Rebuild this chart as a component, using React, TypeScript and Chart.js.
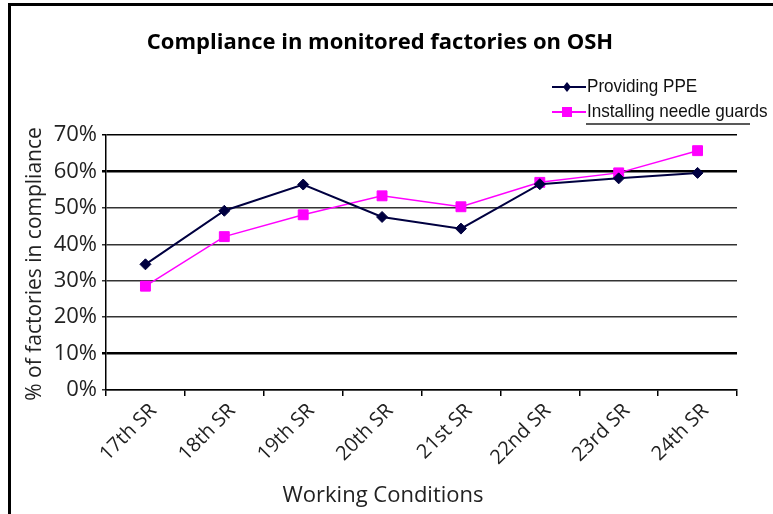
import React, { useEffect, useRef } from "react";
import { Chart, registerables } from "chart.js";

Chart.register(...registerables);

const categories = ["17th SR", "18th SR", "19th SR", "20th SR", "21st SR", "22nd SR", "23rd SR", "24th SR"];
const providingPPE = [34.5, 49.2, 56.4, 47.5, 44.3, 56.5, 58.1, 59.6];
const needleGuards = [28.5, 42.1, 48.1, 53.3, 50.3, 57.0, 59.6, 65.7];
const yTicks = [0, 10, 20, 30, 40, 50, 60, 70];
const seriesNames = ["Providing PPE", "Installing needle guards"];
const chartTitle = "Compliance in monitored factories on OSH";
const xTitle = "Working Conditions";
const yTitle = "% of factories in compliance";

const NAVY = "#000040";
const PINK = "#ff00ff";

const overlay = {
  id: "overlay",
  afterDraw(chart: any) {
    const ctx = chart.ctx;
    ctx.save();
    // frame
    ctx.fillStyle = "#000";
    ctx.fillRect(8, 3, 765, 3);
    ctx.fillRect(8, 3, 3, 511);
    // title
    ctx.fillStyle = "#000";
    ctx.font = "bold 22px 'Open Sans'";
    ctx.textAlign = "center";
    ctx.textBaseline = "alphabetic";
    ctx.fillText(chartTitle, 380, 49);
    // x title
    ctx.fillStyle = "#222";
    ctx.font = "22px 'Open Sans'";
    ctx.fillText(xTitle, 383, 502);
    // y title
    ctx.save();
    ctx.translate(41, 264);
    ctx.rotate(-Math.PI / 2);
    ctx.font = "21px 'Open Sans'";
    ctx.textAlign = "center";
    ctx.fillText(yTitle, 0, 0);
    ctx.restore();
    // legend
    const rows = [87, 112];
    chart.data.datasets.forEach((ds: any, i: number) => {
      const y = rows[i];
      ctx.strokeStyle = ds.borderColor;
      ctx.lineWidth = 2;
      ctx.beginPath();
      ctx.moveTo(552, y);
      ctx.lineTo(586, y);
      ctx.stroke();
      ctx.fillStyle = ds.borderColor;
      ctx.beginPath();
      if (i === 0) {
        ctx.moveTo(567, y - 5);
        ctx.lineTo(571, y);
        ctx.lineTo(567, y + 5);
        ctx.lineTo(563, y);
        ctx.closePath();
      } else {
        ctx.rect(562, y - 5, 10, 10);
      }
      ctx.fill();
      ctx.save();
      ctx.translate(587, y);
      ctx.scale(0.9, 1);
      ctx.fillStyle = "#111";
      ctx.font = "19px 'Liberation Sans'";
      ctx.textAlign = "left";
      ctx.textBaseline = "middle";
      ctx.fillText(ds.label, 0, 0);
      ctx.restore();
    });
    ctx.strokeStyle = "#222";
    ctx.lineWidth = 1.5;
    ctx.beginPath();
    ctx.moveTo(586, 124);
    ctx.lineTo(750, 124);
    ctx.stroke();
    ctx.restore();
  },
};

export default function App() {
  const ref = useRef<HTMLCanvasElement>(null);
  useEffect(() => {
    document.body.style.margin = "0";
    const heavy = (v: number) => v === 60 || v === 10;
    const chart = new Chart(ref.current!, {
      type: "line",
      data: {
        labels: categories,
        datasets: [
          {
            label: seriesNames[0],
            data: providingPPE,
            borderColor: NAVY,
            backgroundColor: NAVY,
            borderWidth: 2,
            pointStyle: "rectRot",
            pointRadius: 5.5,
            pointBorderWidth: 1,
            tension: 0,
          },
          {
            label: seriesNames[1],
            data: needleGuards,
            borderColor: PINK,
            backgroundColor: PINK,
            borderWidth: 1.5,
            pointStyle: "rect",
            pointRadius: 7,
            pointBorderWidth: 1,
            tension: 0,
          },
        ],
      },
      options: {
        animation: false,
        responsive: false,
        events: [],
        layout: { padding: { left: 0, right: 36, top: 135, bottom: 0 } },
        plugins: { legend: { display: false }, title: { display: false }, tooltip: { enabled: false } },
        scales: {
          x: {
            offset: true,
            afterFit: (s: any) => {
              s.height = 124;
            },
            grid: {
              offset: true,
              drawOnChartArea: false,
              drawTicks: true,
              tickLength: 6,
              color: "#000",
              lineWidth: 1.5,
            },
            border: { display: true, color: "#000", width: 1.5 },
            ticks: {
              autoSkip: false,
              maxRotation: 45,
              minRotation: 45,
              padding: 3,
              labelOffset: 8,
              color: "#222",
              font: { family: "'Open Sans'", size: 20 },
            },
          },
          y: {
            min: 0,
            max: 70,
            afterFit: (s: any) => {
              s.width = 106;
            },
            afterBuildTicks: (s: any) => {
              s.ticks = yTicks.map((v) => ({ value: v }));
            },
            grid: {
              drawTicks: true,
              tickLength: 4,
              color: (c: any) => (heavy(c.tick?.value) || c.tick?.value === 70 ? "#000" : "#333"),
              lineWidth: (c: any) => (heavy(c.tick?.value) ? 2.5 : 1.5),
            },
            border: { display: true, color: "#000", width: 1.5 },
            ticks: {
              padding: 5,
              color: "#222",
              font: { family: "'Open Sans'", size: 22 },
              callback: (v: any) => v + "%",
            },
          },
        },
      },
      plugins: [overlay],
    });
    return () => chart.destroy();
  }, []);
  return <canvas ref={ref} width={773} height={514} style={{ display: "block" }} />;
}
